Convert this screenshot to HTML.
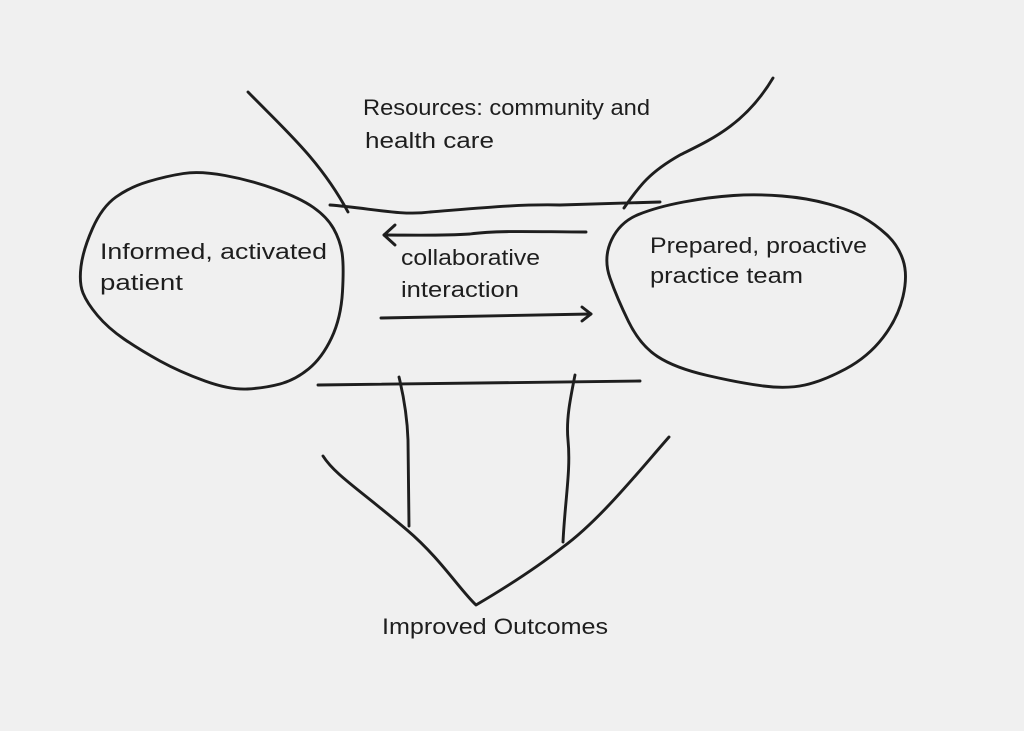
<!DOCTYPE html>
<html>
<head>
<meta charset="utf-8">
<style>
  html, body { margin: 0; padding: 0; background: #f0f0f0; }
  svg { display: block; }
  text { font-family: "Liberation Sans", "DejaVu Sans", sans-serif; font-size: 22px; fill: #1e1e1e; }
</style>
</head>
<body>
<svg width="1024" height="731" viewBox="0 0 1024 731" xmlns="http://www.w3.org/2000/svg">
  <rect x="0" y="0" width="1024" height="731" fill="#f0f0f0"/>
  <g fill="none" stroke="#1e1e1e" stroke-width="2.9" stroke-linecap="round" stroke-linejoin="round">
    <!-- Left ellipse -->
    <path d="M183.5,173.5 Q200,171 225,175.5 Q250,180 275,189 Q300,198 313.5,207.5 Q327,217 333.5,228.5 Q340,240 342,252.5 Q344,265 342.5,291.5 Q341,318 331.5,338 Q322,358 308.5,369 Q295,380 280,384 Q265,388 247.5,389 Q230,390 205,381 Q180,372 160,361 Q140,350 124,339 Q108,328 97.5,315.5 Q87,303 83,293 Q79,283 81,266.5 Q83,250 92.5,228.5 Q102,207 116,197 Q130,187 148.5,181.5 Q167,176 183.5,173.5 Z"/>
    <!-- Right ellipse -->
    <path d="M782,196 Q807,198 828.5,204 Q850,210 862.5,217 Q875,224 886.5,234.5 Q898,245 903,260 Q908,275 903,296.5 Q898,318 883,337.5 Q868,357 845.5,369 Q823,381 805,385 Q787,389 763.5,386 Q740,383 707.5,375.5 Q675,368 657.5,356.5 Q640,345 628.5,321.5 Q617,298 610,278 Q603,258 611.5,240 Q620,222 638.5,214.5 Q657,207 683.5,202 Q710,197 733.5,195.5 Q757,194 782,196 Z"/>
    <!-- Top funnel lines -->
    <path d="M248,92 C285,130 320,160 348,212"/>
    <path d="M773,78 C745,125 710,140 680,155 C650,172 640,185 624,208"/>
    <path d="M330,205 C370,208 400,216 430,212 C480,208 520,204 560,205 L660,202"/>
    <!-- Arrows -->
    <path d="M586,232 C540,232 500,230 470,234 C440,236 410,235 384,235"/>
    <path d="M395,225 L384,235 L395,245"/>
    <path d="M381,318 L591,314"/>
    <path d="M582,307 L591,314 L582,321"/>
    <!-- Bottom -->
    <path d="M318,385 L640,381"/>
    <path d="M399,377 Q407,410 408,440 L409,526"/>
    <path d="M575,375 C570,400 566,420 568,440 C571,470 565,500 563,542"/>
    <path d="M323,456 C335,475 360,490 407,530 C440,558 460,590 476,605 C510,585 540,565 563,547 C600,520 640,470 669,437"/>
  </g>
  <text x="363" y="115" textLength="287" lengthAdjust="spacingAndGlyphs">Resources: community and</text>
  <text x="365" y="148" textLength="129" lengthAdjust="spacingAndGlyphs">health care</text>
  <text x="100" y="259" textLength="227" lengthAdjust="spacingAndGlyphs">Informed, activated</text>
  <text x="100" y="290" textLength="83" lengthAdjust="spacingAndGlyphs">patient</text>
  <text x="401" y="265" textLength="139" lengthAdjust="spacingAndGlyphs">collaborative</text>
  <text x="401" y="297" textLength="118" lengthAdjust="spacingAndGlyphs">interaction</text>
  <text x="650" y="253" textLength="217" lengthAdjust="spacingAndGlyphs">Prepared, proactive</text>
  <text x="650" y="283" textLength="153" lengthAdjust="spacingAndGlyphs">practice team</text>
  <text x="382" y="634" textLength="226" lengthAdjust="spacingAndGlyphs">Improved Outcomes</text>
</svg>
</body>
</html>
